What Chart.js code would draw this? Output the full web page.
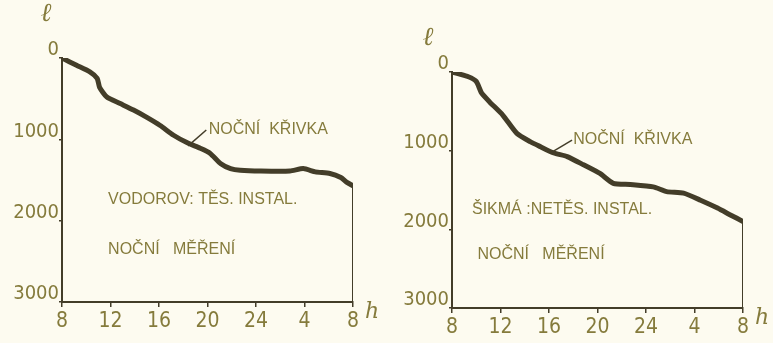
<!DOCTYPE html>
<html>
<head>
<meta charset="utf-8">
<script src="https://cdn.jsdelivr.net/npm/chart.js@4.4.1/dist/chart.umd.min.js"></script>
<style>
    html, body { margin: 0; padding: 0; background: #fdfbf0; }
    #wrap { width: 773px; height: 343px; display: flex; }
    canvas { display: block; }
</style>
</head>
<body>
<div id="wrap">
    <canvas id="leftChart" width="386" height="343"></canvas>
    <canvas id="rightChart" width="387" height="343"></canvas>
</div>
<script>
// hours after 8 o'clock (0 = 8h, 24 = 8h next day)
const hourTicks = [0, 4, 8, 12, 16, 20, 24];
const hourLabels = ["8", "12", "16", "20", "24", "4", "8"];
const depthTicks = [0, 1000, 2000, 3000];

// left: vodorovná těsná instalace
const leftHours = [0, 1.2, 2.3, 2.9, 3.1, 3.7, 4.8, 5.9, 7.0, 8.1, 9.2, 10.3, 11.4, 12.2, 13.1, 13.9, 14.7, 16.4, 18.8, 19.9, 20.9, 22.1, 23.0, 23.5, 24];
const leftDepth = [0, 90, 170, 250, 360, 480, 560, 640, 730, 830, 950, 1040, 1110, 1170, 1300, 1360, 1380, 1390, 1390, 1360, 1400, 1420, 1470, 1530, 1570];

// right: šikmá netěsná instalace
const rightHours = [0, 1.35, 2.0, 2.45, 3.1, 4.2, 5.35, 6.45, 7.3, 8.4, 9.5, 10.85, 12.2, 13.3, 14.7, 16.6, 17.7, 19.1, 20.5, 21.9, 23.0, 24];
const rightDepth = [0, 60, 120, 270, 380, 550, 780, 885, 950, 1030, 1075, 1180, 1290, 1415, 1430, 1460, 1520, 1540, 1630, 1730, 1820, 1900];

const INK = "#433d29";
const PENCIL = "#857b3c";
const TICK_FONT = "'DejaVu Sans Condensed', 'Liberation Sans', sans-serif";

function toPoints(xs, ys) {
    return xs.map((x, i) => ({ x: x, y: ys[i] }));
}

// hand lettering drawn at data coordinates
const notesPlugin = {
    id: "notes",
    afterDraw(chart, args, opts) {
        const ctx = chart.ctx;
        const sx = chart.scales.x, sy = chart.scales.y;
        const area = chart.chartArea;
        ctx.save();
        ctx.fillStyle = PENCIL;
        ctx.strokeStyle = INK;
        ctx.textBaseline = "middle";
        ctx.textAlign = "left";
        ctx.font = "16px 'Liberation Sans', sans-serif";
        (opts.texts || []).forEach(t => {
            ctx.fillText(t.text, sx.getPixelForValue(t.x), sy.getPixelForValue(t.y));
        });
        (opts.leaders || []).forEach(l => {
            ctx.lineWidth = 1.5;
            ctx.beginPath();
            ctx.moveTo(sx.getPixelForValue(l[0]), sy.getPixelForValue(l[1]));
            ctx.lineTo(sx.getPixelForValue(l[2]), sy.getPixelForValue(l[3]));
            ctx.stroke();
        });
        ctx.textAlign = "center";
        ctx.font = "italic 26px 'DejaVu Serif', serif";
        ctx.fillText("ℓ", area.left + opts.ell[0], area.top + opts.ell[1]);
        ctx.font = "italic 22px 'DejaVu Serif', serif";
        ctx.fillText("h", area.right + opts.h[0], area.bottom + opts.h[1]);
        ctx.restore();
    },
};

function buildConfig(hours, depth, layout, notes) {
    const last = depth[depth.length - 1];
    return {
        type: "line",
        data: {
            datasets: [
                {
                    data: toPoints(hours, depth),
                    borderColor: INK,
                    borderWidth: 5,
                    borderCapStyle: "round",
                    borderJoinStyle: "round",
                    tension: 0.2,
                    pointRadius: 0,
                },
                {
                    data: [{ x: 24, y: last }, { x: 24, y: 3000 }],
                    borderColor: INK,
                    borderWidth: 2,
                    pointRadius: 0,
                },
            ],
        },
        options: {
            responsive: false,
            animation: false,
            layout: { padding: { top: layout.top, right: layout.right, left: 0, bottom: 0 } },
            plugins: {
                legend: { display: false },
                tooltip: { enabled: false },
                notes: notes,
            },
            scales: {
                x: {
                    type: "linear",
                    min: 0,
                    max: 24,
                    afterBuildTicks: axis => { axis.ticks = hourTicks.map(v => ({ value: v })); },
                    afterFit: axis => { axis.height = layout.xHeight; },
                    ticks: {
                        color: PENCIL,
                        font: { family: TICK_FONT, size: 21 },
                        padding: 2,
                        callback: (v) => hourLabels[hourTicks.indexOf(v)],
                    },
                    grid: { drawOnChartArea: false, color: INK, lineWidth: 1.5, tickLength: 5 },
                    border: { color: INK, width: 2 },
                },
                y: {
                    type: "linear",
                    reverse: true,
                    min: 0,
                    max: 3000,
                    afterBuildTicks: axis => { axis.ticks = depthTicks.map(v => ({ value: v })); },
                    afterFit: axis => { axis.width = layout.yWidth; },
                    ticks: {
                        color: PENCIL,
                        font: { family: TICK_FONT, size: 20 },
                        padding: 0,
                        labelOffset: -8,
                        callback: (v) => String(v),
                    },
                    grid: { drawOnChartArea: false, color: INK, lineWidth: 1.5, tickLength: 3 },
                    border: { color: INK, width: 2 },
                },
            },
        },
        plugins: [notesPlugin],
    };
}

const leftChart = new Chart(document.getElementById("leftChart"), buildConfig(
    leftHours, leftDepth,
    { top: 58, right: 33, xHeight: 41, yWidth: 62 },
    {
        texts: [
            { text: "NOČNÍ  KŘIVKA", x: 12.1, y: 885 },
            { text: "VODOROV: TĚS. INSTAL.", x: 3.8, y: 1745 },
            { text: "NOČNÍ   MĚŘENÍ", x: 3.8, y: 2360 },
        ],
        leaders: [[10.4, 1080, 11.9, 885]],
        ell: [-16, -44],
        h: [19, 10],
    }
));

const rightChart = new Chart(document.getElementById("rightChart"), buildConfig(
    rightHours, rightDepth,
    { top: 72, right: 30, xHeight: 35, yWidth: 66 },
    {
        texts: [
            { text: "NOČNÍ  KŘIVKA", x: 10.0, y: 865 },
            { text: "ŠIKMÁ :NETĚS. INSTAL.", x: 1.65, y: 1755 },
            { text: "NOČNÍ   MĚŘENÍ", x: 2.1, y: 2325 },
        ],
        leaders: [[8.1, 1030, 9.9, 865]],
        ell: [-24, -34],
        h: [19, 10],
    }
));
</script>
</body>
</html>
